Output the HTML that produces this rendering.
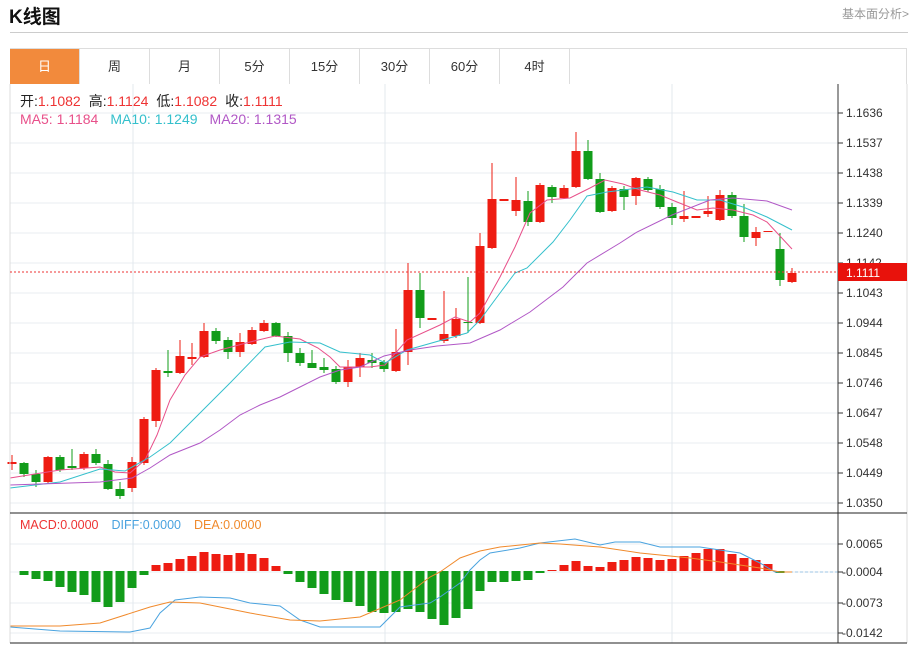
<!DOCTYPE html>
<html><head><meta charset="utf-8">
<style>
body{margin:0;width:914px;height:645px;background:#fff;font-family:"Liberation Sans","Noto Sans CJK SC",sans-serif;position:relative;overflow:hidden}
.t{position:absolute;white-space:nowrap}
.tab{position:absolute;top:49px;height:35px;width:70px;line-height:35px;text-align:center;font-size:13px;color:#333;border-right:1px solid #ddd;box-sizing:border-box}
</style></head><body>
<div class="t" style="left:9px;top:2px;font-size:19px;font-weight:bold;color:#111">K线图</div>
<div class="t" style="left:842px;top:5px;font-size:12px;color:#999">基本面分析&gt;</div>
<div style="position:absolute;left:10px;top:32px;width:898px;height:1px;background:#ccc"></div>
<div style="position:absolute;left:10px;top:48px;width:897px;height:36px;border:1px solid #ddd;box-sizing:border-box;border-bottom:none"></div>
<div class="tab" style="left:10px;background:#f28a3c;color:#fff">日</div>
<div class="tab" style="left:80px">周</div>
<div class="tab" style="left:150px">月</div>
<div class="tab" style="left:220px">5分</div>
<div class="tab" style="left:290px">15分</div>
<div class="tab" style="left:360px">30分</div>
<div class="tab" style="left:430px">60分</div>
<div class="tab" style="left:500px">4时</div>
<svg id="s" width="914" height="645" style="position:absolute;left:0;top:0" xmlns="http://www.w3.org/2000/svg" font-family="Liberation Sans, Noto Sans CJK SC, sans-serif" font-size="12">
<g id="grid"></g>
<g id="bars"></g>
<g id="lines"></g>
<line x1="10" y1="84" x2="10" y2="643" stroke="#ddd"/>
<line x1="907" y1="84" x2="907" y2="643" stroke="#ddd"/>
<line x1="838" y1="84" x2="838" y2="643" stroke="#333"/>
<line x1="10" y1="513" x2="907" y2="513" stroke="#222"/>
<line x1="10" y1="643" x2="907" y2="643" stroke="#222"/>
<line x1="10" y1="272" x2="838" y2="272" stroke="#e33" stroke-dasharray="2,2"/>
<g fill="#333">
<text x="846" y="117">1.1636</text><text x="846" y="147">1.1537</text><text x="846" y="177">1.1438</text><text x="846" y="207">1.1339</text><text x="846" y="237">1.1240</text><text x="846" y="267">1.1142</text><text x="846" y="297">1.1043</text><text x="846" y="327">1.0944</text><text x="846" y="357">1.0845</text><text x="846" y="387">1.0746</text><text x="846" y="417">1.0647</text><text x="846" y="447">1.0548</text><text x="846" y="477">1.0449</text><text x="846" y="507">1.0350</text>
<text x="846" y="548">0.0065</text><text x="842" y="576">-0.0004</text><text x="842" y="607">-0.0073</text><text x="842" y="637">-0.0142</text>
</g>
<rect x="838" y="263" width="69" height="18" fill="#e8120c"/>
<text x="846" y="277" fill="#fff">1.1111</text>
<text x="20" y="106" font-size="14"><tspan fill="#222">开:</tspan><tspan fill="#e33">1.1082</tspan><tspan fill="#222" dx="8">高:</tspan><tspan fill="#e33">1.1124</tspan><tspan fill="#222" dx="8">低:</tspan><tspan fill="#e33">1.1082</tspan><tspan fill="#222" dx="8">收:</tspan><tspan fill="#e33">1.1111</tspan></text>
<text x="20" y="124" font-size="14"><tspan fill="#e8508a">MA5: 1.1184</tspan><tspan fill="#35c0cc" dx="12">MA10: 1.1249</tspan><tspan fill="#b158c6" dx="12">MA20: 1.1315</tspan></text>
<text x="20" y="529" font-size="12.5"><tspan fill="#e33">MACD:0.0000</tspan><tspan fill="#4aa3df" dx="13">DIFF:0.0000</tspan><tspan fill="#f08a2c" dx="13">DEA:0.0000</tspan></text>
</svg>
<script>
var NS="http://www.w3.org/2000/svg";
function el(p,t,a){var e=document.createElementNS(NS,t);for(var k in a)e.setAttribute(k,a[k]);document.getElementById(p).appendChild(e);return e;}
var gy=[113,143,173,203,233,263,293,323,353,383,413,443,473,503,544,572,603,633];
gy.forEach(function(y){el('grid','line',{x1:10,x2:838,y1:y,y2:y,stroke:'#e8ecf1'});el('grid','line',{x1:838,x2:843,y1:y,y2:y,stroke:'#333'});});
[133,385,672].forEach(function(x){el('grid','line',{x1:x,x2:x,y1:84,y2:643,stroke:'#e3e8ee'});});
var C=[[462,464,455,470,'r'],[463,474,462,477,'g'],[474,482,470,487,'g'],[457,482,456,483,'r'],[457,470,455,472,'g'],[466,468,449,470,'g'],[454,468,452,470,'r'],[454,463,449,465,'g'],[464,489,460,490,'g'],[489,496,482,499,'g'],[462,488,457,492,'r'],[419,463,417,465,'r'],[370,421,368,427,'r'],[371,373,350,377,'g'],[356,373,340,374,'r'],[357,359,343,365,'r'],[331,357,323,358,'r'],[331,341,328,344,'g'],[340,352,337,359,'g'],[342,352,333,357,'r'],[330,344,327,345,'r'],[323,331,320,332,'r'],[323,336,322,337,'g'],[336,353,332,362,'g'],[353,363,348,366,'g'],[363,368,350,368,'g'],[367,370,358,373,'g'],[369,382,366,384,'g'],[367,382,360,387,'r'],[358,367,353,377,'r'],[360,363,353,368,'g'],[362,369,360,372,'g'],[352,371,329,372,'r'],[290,352,263,365,'r'],[290,318,273,328,'g'],[318,320,318,320,'r'],[334,341,291,343,'r'],[319,336,308,338,'r'],[322,323,277,333,'g'],[246,323,233,324,'r'],[199,248,163,249,'r'],[199,201,199,201,'r'],[200,211,177,216,'r'],[201,222,191,226,'g'],[185,222,183,223,'r'],[187,197,185,203,'g'],[188,198,185,199,'r'],[151,187,132,188,'r'],[151,179,140,180,'g'],[179,212,173,213,'g'],[188,211,186,212,'r'],[189,197,186,210,'g'],[178,196,177,205,'r'],[179,190,177,192,'g'],[189,207,185,209,'g'],[207,218,203,225,'g'],[216,219,191,222,'r'],[216,218,216,218,'r'],[211,214,196,217,'r'],[195,220,190,221,'r'],[195,216,192,218,'g'],[216,237,204,242,'g'],[232,238,227,246,'r'],[231,232,231,232,'r'],[249,280,233,286,'g'],[273,282,268,283,'r']];
C.forEach(function(c,i){var x=12+12*i;var col=c[4]=='r'?'#ee1c12':'#129c1a';
el('bars','line',{x1:x,x2:x,y1:c[2],y2:c[3],stroke:col,'stroke-width':1});
el('bars','rect',{x:x-4.5,y:c[0],width:9,height:Math.max(1,c[1]-c[0]),fill:col});});
var M=[null,575,579,581,587,592,595,602,607,602,588,575,565,563,559,556,552,554,555,553,554,558,566,574,582,588,594,600,602,606,612,613,612,609,612,619,625,618,609,591,582,582,581,580,573,570,565,561,566,567,562,560,557,558,560,559,556,553,549,549,554,558,560,564,573,null];
M.forEach(function(v,i){if(v==null)return;var x=12+12*i;var col=v<571?'#ee1c12':'#129c1a';var y=Math.min(v,571),h=Math.max(1,Math.abs(v-571));el('bars','rect',{x:x-4.5,y:y,width:9,height:h,fill:col});});
el('bars','line',{x1:790,x2:838,y1:572,y2:572,stroke:'#9cc6e6','stroke-dasharray':'3,2'});
function pl(pts,col){el('lines','polyline',{points:pts.map(function(p){return p.join(',')}).join(' '),fill:'none',stroke:col,'stroke-width':1});}
pl([[10,478],[60,470],[100,467],[115,472],[130,473],[145,460],[157,435],[170,400],[185,375],[200,357],[220,350],[250,342],[275,336],[300,339],[318,348],[330,357],[340,367],[370,367],[385,365],[407,340],[440,325],[455,317],[470,322],[480,313],[500,277],[515,247],[530,213],[547,200],[570,198],[590,188],[605,180],[623,184],[640,190],[660,195],[677,202],[697,210],[713,208],[733,210],[753,215],[767,222],[792,249]],'#e8508a');
pl([[10,488],[60,482],[100,469],[125,471],[150,457],[170,443],[200,413],[230,383],[265,347],[290,342],[320,343],[340,352],[370,355],[385,363],[407,350],[467,333],[480,320],[500,293],[515,273],[527,268],[553,242],[570,220],[587,196],[607,192],[647,187],[673,192],[697,200],[720,200],[743,207],[767,217],[792,230]],'#35c0cc');
pl([[10,485],[100,482],[132,478],[150,468],[170,455],[200,443],[220,430],[240,415],[260,405],[280,397],[300,387],[320,377],[340,370],[360,367],[384,356],[410,350],[437,346],[470,343],[500,330],[530,312],[563,287],[587,263],[620,243],[637,232],[672,215],[710,200],[733,198],[767,201],[792,210]],'#b158c6');
pl([[10,627],[60,631],[130,632],[150,628],[160,613],[175,600],[200,597],[230,598],[250,603],[280,606],[300,620],[320,627],[380,627],[400,607],[430,603],[440,597],[460,583],[470,570],[480,560],[490,553],[520,548],[540,543],[575,539],[600,545],[615,542],[640,542],[660,547],[700,547],[720,550],[740,553],[760,563],[775,572],[790,572]],'#4aa3df');
pl([[10,626],[60,626],[100,623],[150,607],[170,602],[200,603],[250,613],[290,620],[320,621],[360,617],[400,600],[430,577],[440,572],[460,558],[480,551],[500,547],[540,543],[560,544],[600,547],[640,553],[690,558],[720,562],[760,568],[780,572],[792,572]],'#f08a2c');
</script>
</body></html>
